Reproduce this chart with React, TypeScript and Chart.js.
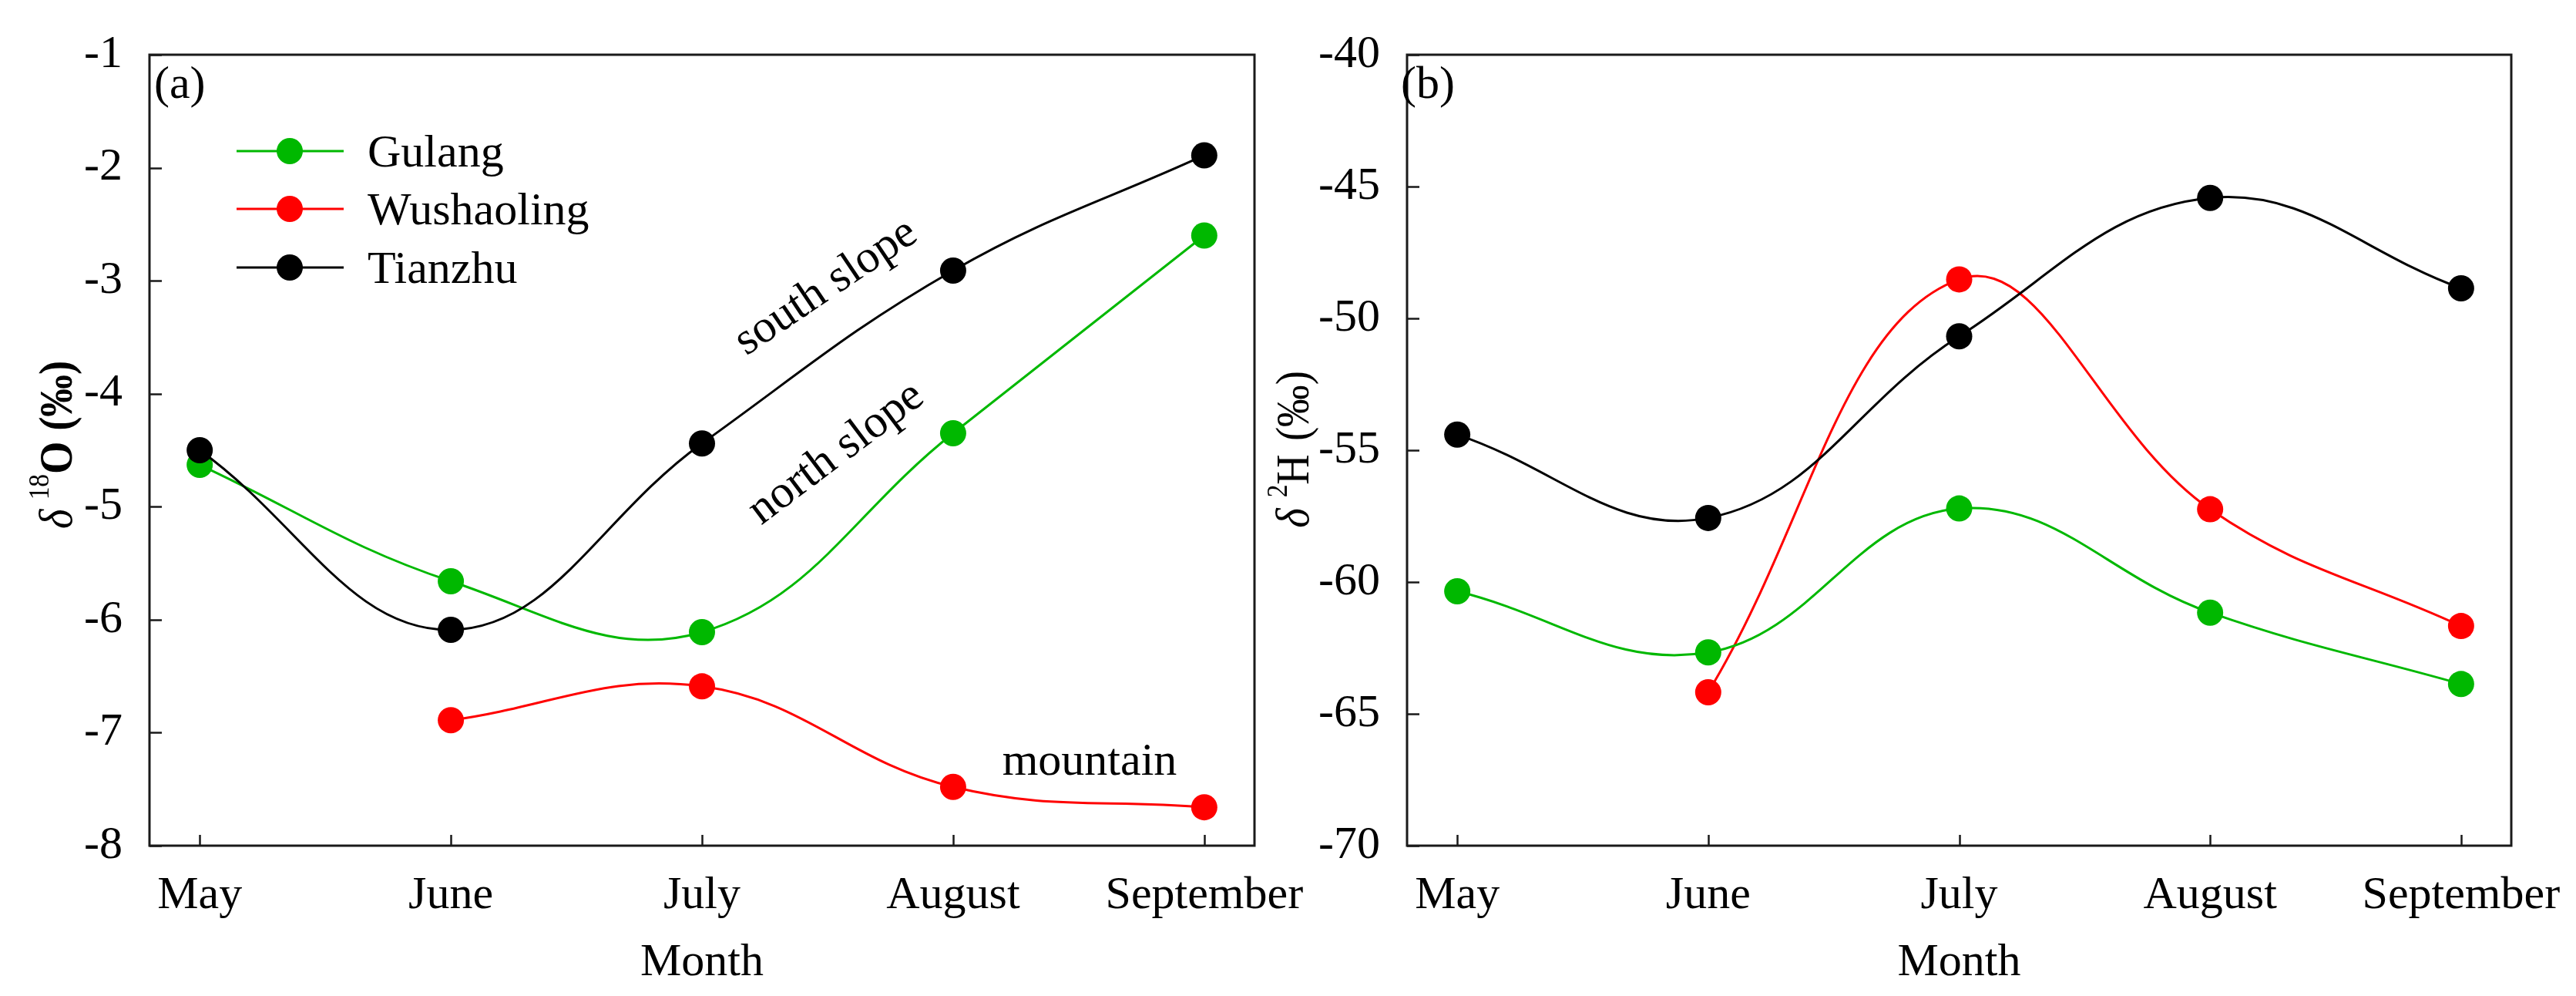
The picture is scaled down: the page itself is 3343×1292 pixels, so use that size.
import React, { useEffect, useRef } from 'react';
import { Chart, registerables } from 'chart.js';

Chart.register(...registerables);

// ---------------- data ----------------
const months = ['May', 'June', 'July', 'August', 'September'];
const seriesNames = ['Gulang', 'Wushaoling', 'Tianzhu'];
const seriesColors = ['#00b800', '#ff0000', '#000000'];

const o18Gulang = [-4.63, -5.66, -6.11, -4.35, -2.6];
const o18Wushaoling = [null, -6.89, -6.59, -7.48, -7.66];
const o18Tianzhu = [-4.5, -6.09, -4.44, -2.91, -1.89];

const h2Gulang = [-60.35, -62.67, -57.21, -61.16, -63.87];
const h2Wushaoling = [null, -64.18, -48.52, -57.24, -61.67];
const h2Tianzhu = [-54.41, -57.57, -50.68, -45.43, -48.86];

const o18Range = [-8, -1, 1];
const h2Range = [-70, -40, 5];

const annotationsA = [
  { text: 'south slope', x: 1081, y: 386, angle: -34 },
  { text: 'north slope', x: 1095, y: 601, angle: -37 },
  { text: 'mountain', x: 1414, y: 1005, angle: 0 },
];

const FONT = '"Liberation Serif", "Times New Roman", serif';
const W = 3343;
const H = 1292;

type Piece = { text: string; font: string; raise?: number; gap?: number };

function toXY(arr: (number | null)[]) {
  return arr
    .map((v, i) => (v == null ? null : { x: i, y: v }))
    .filter((p) => p !== null);
}

function drawRotatedRich(
  ctx: CanvasRenderingContext2D,
  pieces: Piece[],
  bx: number,
  cy: number,
  squeeze: number
) {
  ctx.save();
  ctx.translate(bx, cy);
  ctx.rotate(-Math.PI / 2);
  ctx.scale(squeeze, 1);
  ctx.textAlign = 'left';
  ctx.textBaseline = 'alphabetic';
  ctx.fillStyle = '#000';
  let total = 0;
  for (const p of pieces) {
    ctx.font = p.font;
    total += ctx.measureText(p.text).width + (p.gap || 0);
  }
  let x = -total / 2;
  for (const p of pieces) {
    ctx.font = p.font;
    ctx.fillText(p.text, x, -(p.raise || 0));
    x += ctx.measureText(p.text).width + (p.gap || 0);
  }
  ctx.restore();
}

interface PanelSpec {
  datasets: (number | null)[][];
  range: number[];
  yAxisWidth: number;
  padRight: number;
  letter: string;
  letterX: number;
  titlePieces: Piece[];
  titleX: number;
  titleY: number;
  legend: boolean;
  annotations: { text: string; x: number; y: number; angle: number }[];
}

function makeChart(canvas: HTMLCanvasElement, spec: PanelSpec) {
  const decor = {
    id: 'decor',
    afterDraw(chart: any) {
      const ctx: CanvasRenderingContext2D = chart.ctx;
      const ca = chart.chartArea;
      const xs = chart.scales.x;
      const ys = chart.scales.y;
      ctx.save();
      // inward ticks
      ctx.strokeStyle = '#1a1a1a';
      ctx.lineWidth = 2.5;
      ctx.beginPath();
      for (const t of ys.ticks) {
        const py = Math.round(ys.getPixelForValue(t.value)) + 0.5;
        ctx.moveTo(ca.left, py);
        ctx.lineTo(ca.left + 16, py);
      }
      for (const t of xs.ticks) {
        const px = Math.round(xs.getPixelForValue(t.value)) + 0.5;
        ctx.moveTo(px, ca.bottom);
        ctx.lineTo(px, ca.bottom - 14);
      }
      ctx.stroke();
      // frame
      ctx.lineWidth = 3;
      ctx.strokeStyle = '#1a1a1a';
      ctx.strokeRect(ca.left, ca.top, ca.right - ca.left, ca.bottom - ca.top);

      ctx.fillStyle = '#000';
      ctx.textBaseline = 'alphabetic';
      // panel letter
      ctx.font = `60px ${FONT}`;
      ctx.textAlign = 'left';
      ctx.fillText(spec.letter, spec.letterX, 127);
      // x title
      ctx.textAlign = 'center';
      ctx.fillText('Month', (ca.left + ca.right) / 2, 1265);
      // annotations
      for (const a of spec.annotations) {
        ctx.save();
        ctx.translate(a.x, a.y);
        ctx.rotate((a.angle * Math.PI) / 180);
        ctx.textAlign = 'center';
        ctx.fillText(a.text, 0, 0);
        ctx.restore();
      }
      // legend
      if (spec.legend) {
        const rows = [196, 271, 347];
        seriesNames.forEach((name, i) => {
          const y = rows[i];
          ctx.strokeStyle = seriesColors[i];
          ctx.lineWidth = 3;
          ctx.beginPath();
          ctx.moveTo(307, y);
          ctx.lineTo(446, y);
          ctx.stroke();
          ctx.fillStyle = seriesColors[i];
          ctx.beginPath();
          ctx.arc(376, y, 17, 0, Math.PI * 2);
          ctx.fill();
          ctx.fillStyle = '#000';
          ctx.textAlign = 'left';
          ctx.font = `60px ${FONT}`;
          ctx.fillText(name, 477, y + 20);
        });
      }
      ctx.restore();
      // y title
      drawRotatedRich(ctx, spec.titlePieces, spec.titleX, spec.titleY, 0.88);
    },
  };

  const orders = [2, 3, 1];
  return new Chart(canvas, {
    type: 'line',
    data: {
      datasets: spec.datasets.map((d, i) => ({
        label: seriesNames[i],
        data: toXY(d) as any,
        borderColor: seriesColors[i],
        backgroundColor: seriesColors[i],
        borderWidth: 3,
        tension: 0.4,
        pointRadius: 17,
        pointBorderWidth: 0,
        pointBackgroundColor: seriesColors[i],
        pointBorderColor: seriesColors[i],
        fill: false,
        order: orders[i],
        clip: false as any,
      })),
    },
    options: {
      animation: false,
      responsive: false,
      devicePixelRatio: 1,
      events: [],
      layout: { padding: { left: 0, top: 66, right: spec.padRight, bottom: 0 } },
      plugins: { legend: { display: false }, tooltip: { enabled: false }, title: { display: false } },
      scales: {
        x: {
          type: 'linear',
          min: -0.2,
          max: 4.2,
          grid: { display: false, drawTicks: false, drawOnChartArea: false },
          border: { display: false },
          afterBuildTicks: (scale: any) => {
            scale.ticks = months.map((_, i) => ({ value: i }));
          },
          afterFit: (scale: any) => {
            scale.height = H - 1097;
          },
          ticks: {
            autoSkip: false,
            maxRotation: 0,
            padding: 29,
            color: '#000',
            font: { family: FONT, size: 60 },
            callback: (v: any) => months[v as number] ?? '',
          },
        },
        y: {
          type: 'linear',
          min: spec.range[0],
          max: spec.range[1],
          grid: { display: false, drawTicks: false, drawOnChartArea: false },
          border: { display: false },
          afterFit: (scale: any) => {
            scale.width = spec.yAxisWidth;
          },
          ticks: {
            stepSize: spec.range[2],
            padding: 35,
            color: '#000',
            font: { family: FONT, size: 60 },
          },
        },
      },
    },
    plugins: [decor],
  });
}

export default function App() {
  const refA = useRef<HTMLCanvasElement>(null);
  const refB = useRef<HTMLCanvasElement>(null);

  useEffect(() => {
    const charts: Chart[] = [];
    if (refA.current) {
      charts.push(
        makeChart(refA.current, {
          datasets: [o18Gulang, o18Wushaoling, o18Tianzhu],
          range: o18Range,
          yAxisWidth: 194,
          padRight: 1760 - 1628,
          letter: '(a)',
          letterX: 200,
          titlePieces: [
            { text: 'δ', font: `italic 62px ${FONT}`, gap: 14 },
            { text: '18', font: `38px ${FONT}`, raise: 30 },
            { text: 'O', font: `bold 62px ${FONT}` },
            { text: ' (‰)', font: `bold 62px ${FONT}` },
          ],
          titleX: 93,
          titleY: 577,
          legend: true,
          annotations: annotationsA,
        })
      );
    }
    if (refB.current) {
      charts.push(
        makeChart(refB.current, {
          datasets: [h2Gulang, h2Wushaoling, h2Tianzhu],
          range: h2Range,
          yAxisWidth: 1826 - 1560,
          padRight: 1850 - (3259 - 1560),
          letter: '(b)',
          letterX: 1818 - 1560,
          titlePieces: [
            { text: 'δ', font: `italic 62px ${FONT}`, gap: 16 },
            { text: '2', font: `38px ${FONT}`, raise: 28 },
            { text: 'H', font: `62px ${FONT}`, gap: 4 },
            { text: ' (‰)', font: `62px ${FONT}` },
          ],
          titleX: 1698 - 1560,
          titleY: 583,
          legend: false,
          annotations: [],
        })
      );
    }
    return () => charts.forEach((c) => c.destroy());
  }, []);

  return (
    <div
      style={{
        position: 'absolute',
        left: 0,
        top: 0,
        width: W,
        height: H,
        overflow: 'hidden',
        background: '#fff',
      }}
    >
      <canvas
        ref={refA}
        width={1760}
        height={H}
        style={{ position: 'absolute', left: 0, top: 0, width: 1760, height: H }}
      />
      <canvas
        ref={refB}
        width={1850}
        height={H}
        style={{ position: 'absolute', left: 1560, top: 0, width: 1850, height: H }}
      />
    </div>
  );
}
